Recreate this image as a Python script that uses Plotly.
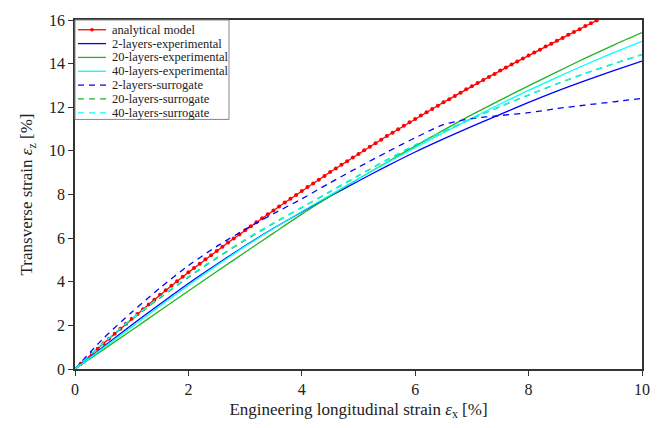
import plotly.graph_objects as go

# Analytical model, sampled every 0.1 % of longitudinal strain
x_model = [0.0, 0.1, 0.2, 0.3, 0.4, 0.5, 0.6, 0.7, 0.8, 0.9,
           1.0, 1.1, 1.2, 1.3, 1.4, 1.5, 1.6, 1.7, 1.8, 1.9,
           2.0, 2.1, 2.2, 2.3, 2.4, 2.5, 2.6, 2.7, 2.8, 2.9,
           3.0, 3.1, 3.2, 3.3, 3.4, 3.5, 3.6, 3.7, 3.8, 3.9,
           4.0, 4.1, 4.2, 4.3, 4.4, 4.5, 4.6, 4.7, 4.8, 4.9,
           5.0, 5.1, 5.2, 5.3, 5.4, 5.5, 5.6, 5.7, 5.8, 5.9,
           6.0, 6.1, 6.2, 6.3, 6.4, 6.5, 6.6, 6.7, 6.8, 6.9,
           7.0, 7.1, 7.2, 7.3, 7.4, 7.5, 7.6, 7.7, 7.8, 7.9,
           8.0, 8.1, 8.2, 8.3, 8.4, 8.5, 8.6, 8.7, 8.8, 8.9,
           9.0, 9.1, 9.2, 9.3]
y_model = [0.00, 0.24, 0.47, 0.70, 0.93, 1.17, 1.39, 1.62, 1.85, 2.08,
           2.30, 2.52, 2.74, 2.96, 3.18, 3.40, 3.61, 3.82, 4.02, 4.23,
           4.43, 4.63, 4.83, 5.03, 5.22, 5.41, 5.61, 5.80, 5.98, 6.17,
           6.36, 6.54, 6.73, 6.91, 7.09, 7.27, 7.45, 7.63, 7.81, 7.98,
           8.16, 8.34, 8.51, 8.68, 8.85, 9.03, 9.19, 9.36, 9.53, 9.70,
           9.86, 10.03, 10.19, 10.35, 10.51, 10.68, 10.83, 10.99, 11.15, 11.31,
           11.46, 11.62, 11.77, 11.92, 12.07, 12.23, 12.37, 12.52, 12.67, 12.82,
           12.96, 13.11, 13.25, 13.39, 13.53, 13.68, 13.82, 13.96, 14.10, 14.23,
           14.37, 14.51, 14.64, 14.78, 14.91, 15.05, 15.18, 15.32, 15.45, 15.58,
           15.72, 15.85, 15.98, 16.11]

# Experimental and surrogate curves, sampled every 0.5 %
x_curve = [0.0, 0.5, 1.0, 1.5, 2.0, 2.5, 3.0, 3.5, 4.0, 4.5, 5.0,
           5.5, 6.0, 6.5, 7.0, 7.5, 8.0, 8.5, 9.0, 9.5, 10.0]
y_exp_2 = [0.00, 1.02, 2.02, 2.98, 3.92, 4.80, 5.65, 6.45, 7.20, 7.92, 8.62,
           9.30, 9.95, 10.55, 11.12, 11.67, 12.22, 12.74, 13.22, 13.68, 14.12]
y_exp_20 = [0.00, 0.89, 1.78, 2.68, 3.58, 4.47, 5.35, 6.23, 7.10, 7.92, 8.72,
            9.48, 10.22, 10.95, 11.66, 12.33, 12.98, 13.62, 14.25, 14.85, 15.42]
y_exp_40 = [0.00, 0.97, 1.93, 2.89, 3.84, 4.75, 5.62, 6.44, 7.22, 7.98, 8.72,
            9.45, 10.15, 10.83, 11.50, 12.15, 12.77, 13.37, 13.95, 14.50, 15.02]
y_sur_2 = [0.00, 1.40, 2.60, 3.72, 4.74, 5.62, 6.40, 7.12, 7.80, 8.54, 9.25,
           9.94, 10.60, 11.20, 11.48, 11.62, 11.75, 11.94, 12.10, 12.25, 12.41]
y_sur_20 = [0.00, 1.17, 2.26, 3.26, 4.20, 5.08, 5.90, 6.67, 7.40, 8.13, 8.86,
            9.58, 10.26, 10.89, 11.47, 12.03, 12.56, 13.07, 13.55, 13.99, 14.41]
y_sur_40 = [0.00, 1.20, 2.30, 3.30, 4.24, 5.12, 5.94, 6.70, 7.42, 8.15, 8.88,
            9.60, 10.28, 10.90, 11.48, 12.04, 12.57, 13.08, 13.56, 14.00, 14.42]

RED = "#ff0000"
BLUE = "#0000ff"
GREEN = "#22b422"
CYAN = "#00ffff"
FONT = "Liberation Serif, Times New Roman, serif"
TEXT = "#222222"
DASH = "6px,5px"

fig = go.Figure()

fig.add_trace(go.Scatter(
    x=x_model, y=y_model, name="analytical model", mode="lines+markers",
    line=dict(color=RED, width=1.3),
    marker=dict(color=RED, size=4, symbol="circle")))

series = [("2-layers-experimental", y_exp_2, BLUE, "solid"),
          ("20-layers-experimental", y_exp_20, GREEN, "solid"),
          ("40-layers-experimental", y_exp_40, CYAN, "solid"),
          ("2-layers-surrogate", y_sur_2, BLUE, DASH),
          ("20-layers-surrogate", y_sur_20, GREEN, DASH),
          ("40-layers-surrogate", y_sur_40, CYAN, DASH)]
for name, ys, col, dash in series:
    fig.add_trace(go.Scatter(
        x=x_curve, y=ys, name=name, mode="lines",
        line=dict(color=col, width=1.3, dash=dash, shape="spline", smoothing=0.8)))

# Compact legend box in the upper-left corner of the plot area
plot_h = 358.0
plot_w = 567.0
row0_px, row_step_px = 10.0, 14.2
box_h_px, box_w_px = 102.0, 154.0
shapes = [dict(type="rect", xref="x domain", yref="y domain",
               x0=0, x1=box_w_px / plot_w, y0=1 - box_h_px / plot_h, y1=1,
               fillcolor="white", line=dict(color="#888888", width=1), layer="above")]
annotations = []
entries = [("analytical model", RED, "solid")] + [(n, c, d) for n, _, c, d in series]
for i, (name, col, dash) in enumerate(entries):
    yy = 1 - (row0_px + i * row_step_px) / plot_h
    shapes.append(dict(type="line", xref="x domain", yref="y domain",
                       x0=3 / plot_w, x1=31 / plot_w, y0=yy, y1=yy, layer="above",
                       line=dict(color=col, width=1.3, dash=dash)))
    if i == 0:
        r = 1.8
        shapes.append(dict(type="circle", xref="x domain", yref="y domain",
                           x0=(17 - r) / plot_w, x1=(17 + r) / plot_w,
                           y0=yy - r / plot_h, y1=yy + r / plot_h, layer="above",
                           fillcolor=col, line=dict(color=col, width=0)))
    annotations.append(dict(xref="x domain", yref="y domain", x=35 / plot_w, y=yy,
                            xanchor="left", yanchor="middle", showarrow=False,
                            text=name, font=dict(family=FONT, size=12.5, color=TEXT)))

axis_common = dict(
    showgrid=False, zeroline=False, showline=True, mirror=True,
    linecolor="#333333", linewidth=1.6,
    ticks="outside", ticklen=5, tickwidth=1.3, tickcolor="#333333",
    tickfont=dict(family=FONT, size=16, color=TEXT),
)

fig.update_layout(
    width=662, height=428,
    margin=dict(l=75, r=20, t=18, b=52),
    paper_bgcolor="white", plot_bgcolor="white",
    font=dict(family=FONT, color=TEXT),
    showlegend=False,
    shapes=shapes,
    annotations=annotations,
    xaxis=dict(
        range=[0, 10], tickvals=[0, 2, 4, 6, 8, 10],
        title=dict(text="Engineering longitudinal strain <i>ε</i><sub>x</sub> [%]",
                   font=dict(family=FONT, size=17, color=TEXT), standoff=6),
        **axis_common),
    yaxis=dict(
        range=[0, 16], tickvals=[0, 2, 4, 6, 8, 10, 12, 14, 16],
        title=dict(text="Transverse strain <i>ε</i><sub>z</sub> [%]",
                   font=dict(family=FONT, size=17, color=TEXT), standoff=12),
        **axis_common),
)

fig.write_html("out.html")
